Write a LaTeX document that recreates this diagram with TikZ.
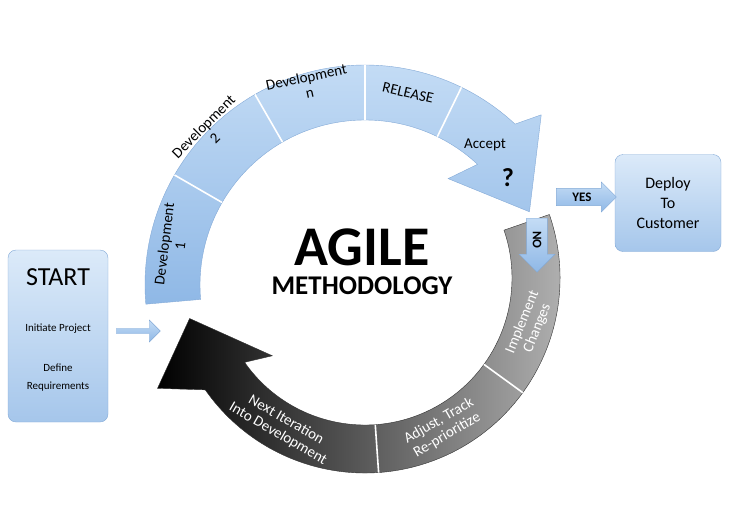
\documentclass[tikz,border=0pt]{standalone}
\usepackage{fontspec}
\setmainfont{Carlito}
\usetikzlibrary{shapes.arrows,positioning}
\definecolor{bluelite}{HTML}{C4DCF5}
\definecolor{bluemid}{HTML}{8FB8E6}
\definecolor{bluedark}{HTML}{4F86C6}
\tikzset{
  seg/.style={white, line width=1.6pt},
  bluetxt/.style={font=\fontsize{15}{16}\selectfont, align=center},
  greytxt/.style={font=\fontsize{15}{16}\selectfont, align=center, text=white},
  smallarrow/.style={single arrow, draw=bluedark!70, top color=bluelite, bottom color=bluemid,
    single arrow head extend=4pt, minimum height=44pt, minimum width=30pt, inner sep=1pt},
  sidebox/.style={draw=bluedark!70, rounded corners=8pt, top color=bluelite!60, bottom color=bluemid!80, align=center}
}
\begin{document}
\begin{tikzpicture}[x=1pt,y=1pt]
  \useasboundingbox (0,0) rectangle (730,-530);

  % dark return arc
  \draw[black!80, left color=black, right color=gray!55, shift={(365,-278)}]
    (19:195) arc[start angle=19, end angle=-145, radius=195]
    -- (-152:235) -- (-167:180) -- (-140:121)
    -- (-145:147) arc[start angle=-145, end angle=19, radius=147] -- cycle;
  \draw[seg, shift={(365,-278)}] (-36:147) -- (-36:195);
  \draw[seg, shift={(365,-278)}] (-86:147) -- (-86:195);

  % blue development arc
  \draw[bluedark!70, top color=bluelite, bottom color=bluemid, shift={(365,-285)}]
    (185:220) arc[start angle=185, end angle=47, radius=220]
    -- (44:245) -- (24:180) -- (52:135)
    -- (47:165) arc[start angle=47, end angle=185, radius=165] -- cycle;
  \foreach \a in {150,120,90,64}
    \draw[seg, shift={(365,-285)}] (\a:165) -- (\a:220);

  % labels on the arcs
  \node[bluetxt, rotate=83] (dev1) at (172,-245) {Development\\1};
  \node[bluetxt, rotate=45] (dev2) at (209,-132) {Development\\2};
  \node[bluetxt, rotate=12] (devn) at (308,-85) {Development\\n};
  \node[bluetxt, rotate=-13] (release) at (408,-93) {RELEASE};
  \node[bluetxt] (accept) at (485,-145) {Accept};
  \node[font=\fontsize{26}{26}\selectfont\bfseries] (quest) at (508,-178) {?};
  \node[greytxt, rotate=68] (impl) at (530,-325) {Implement\\Changes};
  \node[greytxt, rotate=30] (adjust) at (443,-428) {Adjust, Track\\Re-prioritize};
  \node[greytxt, rotate=-30] (next) at (282,-427) {Next Iteration\\Into Development};

  % centre title
  \node[font=\fontsize{56}{56}\selectfont\bfseries] (agile) at (362,-247) {AGILE};
  \node[font=\fontsize{27}{27}\selectfont\bfseries, below=4pt of agile] (method) {METHODOLOGY};

  % start and deploy boxes
  \node[sidebox, minimum width=100pt, minimum height=172pt] (start) at (58,-336) {};
  \node[font=\fontsize{26}{30}\selectfont] (starttxt) at (58,-277) {START};
  \node[font=\fontsize{11}{13}\selectfont] (initiate) at (58,-329) {Initiate Project};
  \node[font=\fontsize{11}{18}\selectfont, align=center] (define) at (58,-378) {Define\\Requirements};
  \node[sidebox, minimum width=106pt, minimum height=97pt, font=\fontsize{16}{20}\selectfont] (deploy) at (668,-203)
    {Deploy\\To\\Customer};

  % small connector arrows
  \node[smallarrow, minimum height=44pt, minimum width=22pt] (go) at (137,-331) {};
  \node[smallarrow, font=\fontsize{13}{13}\selectfont\bfseries, minimum height=60pt] (yes) at (582,-197) {YES};
  \node[smallarrow, shape border rotate=270, font=\fontsize{13}{13}\selectfont\bfseries,
    minimum height=54pt, minimum width=36pt] (no) at (537,-240) {\rotatebox{-90}{NO}};
\end{tikzpicture}
\end{document}
